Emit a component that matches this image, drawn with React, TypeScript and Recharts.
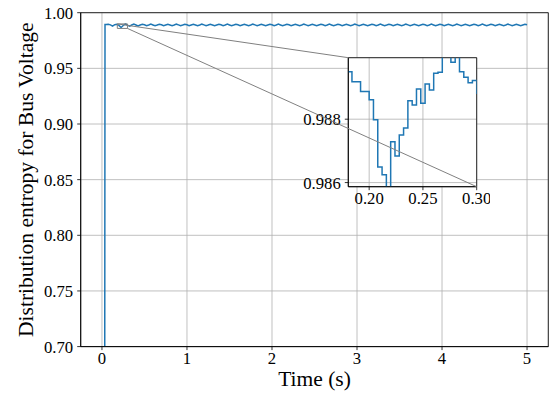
import { LineChart, Line, XAxis, YAxis, CartesianGrid, ReferenceArea, ReferenceLine } from 'recharts';

const FONT = '"Liberation Serif", "Times New Roman", serif';

// main trace: start-up points, then values every 0.025 s from 0.05 s to 5.00 s
const leadTimes = [0, 0.032, 0.036];
const leadValues = [0.62, 0.62, 0.9894];
const sampleStart = 0.05;
const sampleStep = 0.025;
const sampleValues = [
  0.9893, 0.9897, 0.9891, 0.988, 0.9892, 0.9896, 0.9886, 0.9867,
  0.9885, 0.9899, 0.9888, 0.9879, 0.9889, 0.9897, 0.989, 0.9882,
  0.9889, 0.9896, 0.9891, 0.9884, 0.989, 0.9897, 0.989, 0.9883,
  0.9889, 0.9896, 0.9891, 0.9884, 0.989, 0.9896, 0.989, 0.9884,
  0.989, 0.9897, 0.9891, 0.9883, 0.9889, 0.9896, 0.9891, 0.9884,
  0.989, 0.9896, 0.989, 0.9884, 0.9889, 0.9897, 0.9891, 0.9883,
  0.9889, 0.9896, 0.989, 0.9884, 0.989, 0.9896, 0.9891, 0.9884,
  0.989, 0.9897, 0.989, 0.9883, 0.9889, 0.9896, 0.9891, 0.9884,
  0.989, 0.9896, 0.989, 0.9884, 0.9889, 0.9897, 0.9891, 0.9883,
  0.9889, 0.9896, 0.989, 0.9884, 0.989, 0.9896, 0.9891, 0.9884,
  0.989, 0.9897, 0.989, 0.9883, 0.9889, 0.9896, 0.9891, 0.9884,
  0.989, 0.9896, 0.989, 0.9884, 0.9889, 0.9897, 0.9891, 0.9883,
  0.9889, 0.9896, 0.989, 0.9884, 0.989, 0.9896, 0.9891, 0.9884,
  0.989, 0.9897, 0.989, 0.9883, 0.9889, 0.9896, 0.9891, 0.9884,
  0.989, 0.9896, 0.989, 0.9884, 0.9889, 0.9897, 0.9891, 0.9883,
  0.9889, 0.9896, 0.989, 0.9884, 0.989, 0.9896, 0.9891, 0.9884,
  0.989, 0.9897, 0.989, 0.9883, 0.9889, 0.9896, 0.9891, 0.9884,
  0.989, 0.9896, 0.989, 0.9884, 0.9889, 0.9897, 0.9891, 0.9883,
  0.9889, 0.9896, 0.989, 0.9884, 0.989, 0.9896, 0.9891, 0.9884,
  0.989, 0.9897, 0.989, 0.9883, 0.9889, 0.9896, 0.9891, 0.9884,
  0.989, 0.9896, 0.989, 0.9884, 0.9889, 0.9897, 0.9891, 0.9883,
  0.9889, 0.9896, 0.989, 0.9884, 0.989, 0.9896, 0.9891, 0.9884,
  0.989, 0.9897, 0.989, 0.9883, 0.9889, 0.9896, 0.9891, 0.9884,
  0.989, 0.9896, 0.989, 0.9884, 0.9889, 0.9897, 0.9891, 0.9883,
  0.9889, 0.9896, 0.989, 0.9884, 0.989, 0.9896, 0.9891,
];

// zoomed window, 4 ms steps
const insetTimes = [
  0.18, 0.184, 0.188, 0.192, 0.196, 0.2, 0.204, 0.208, 0.212, 0.216, 0.22,
  0.224, 0.228, 0.232, 0.236, 0.24, 0.244, 0.248, 0.252, 0.256, 0.26,
  0.264, 0.268, 0.272, 0.276, 0.28, 0.284, 0.288, 0.292, 0.296, 0.3, 0.304,
];
const insetValues = [
  0.9895, 0.98918, 0.98918, 0.98887, 0.98887, 0.98861, 0.98798, 0.98649, 0.98625, 0.9855, 0.98729,
  0.98684, 0.9875, 0.98772, 0.98858, 0.98845, 0.98895, 0.9885, 0.98911, 0.98892, 0.98945,
  0.98948, 0.99, 0.99, 0.9898, 0.99, 0.9895, 0.98932, 0.98915, 0.98922, 0.98882, 0.9887,
];

const xTicks = [0, 1, 2, 3, 4, 5];
const yTicks = [0.7, 0.75, 0.8, 0.85, 0.9, 0.95, 1.0];
const insetXTicks = [0.2, 0.25, 0.3];
const insetYTicks = [0.986, 0.988];

const X_DOMAIN: [number, number] = [-0.25, 5.25];
const Y_DOMAIN: [number, number] = [0.7, 1.0];
const ZOOM_X: [number, number] = [0.1806, 0.3];
const ZOOM_Y: [number, number] = [0.98587, 0.98994];

const W = 557;
const H = 393;
const M = { top: 12.7, right: 8.7, left: 80.7, bottom: 46.4 };
const INSET = { left: 348.3, top: 57.7, width: 128.4, height: 129 };

const mainData = [
  ...leadTimes.map((t, i) => ({ t, v: leadValues[i] })),
  ...sampleValues.map((v, i) => ({ t: +(sampleStart + i * sampleStep).toFixed(3), v })),
];
const insetData = insetTimes.map((t, i) => ({ t, v: insetValues[i] }));

// inset corners expressed in main-axis data units
const plotW = W - M.left - M.right;
const plotH = H - M.top - M.bottom;
const toT = (px: number) => X_DOMAIN[0] + ((px - M.left) / plotW) * (X_DOMAIN[1] - X_DOMAIN[0]);
const toV = (py: number) => Y_DOMAIN[1] - ((py - M.top) / plotH) * (Y_DOMAIN[1] - Y_DOMAIN[0]);
const insetT0 = toT(INSET.left);
const insetT1 = toT(INSET.left + INSET.width);
const insetV0 = toV(INSET.top + INSET.height);
const insetV1 = toV(INSET.top);

const tickStyle = { fill: '#000', fontSize: 16.7, fontFamily: FONT };
const axisStroke = { stroke: '#000', strokeWidth: 0.8 };

const YLabel = ({ viewBox }: any) => {
  const cx = 33;
  const cy = viewBox.y + viewBox.height / 2;
  return (
    <text x={cx} y={cy} transform={`rotate(-90 ${cx} ${cy})`} textAnchor="middle"
      fontSize={21.5} fill="#000" fontFamily={FONT}>
      Distribution entropy for Bus Voltage
    </text>
  );
};

export default function App() {
  const insetW = 200;
  const insetH = 175;
  const insetLeft = 290;
  const insetTop = 50;
  return (
    <div style={{ position: 'absolute', left: 0, top: 0, width: W, height: H, background: '#fff', fontFamily: FONT }}>
      <div style={{ position: 'absolute', left: 0, top: 0 }}>
        <LineChart width={W} height={H} data={mainData} style={{ fontFamily: FONT }}
          margin={{ top: M.top, right: M.right, left: 0, bottom: 0 }}>
          <CartesianGrid stroke="#b0b0b0" strokeWidth={0.8} />
          <XAxis dataKey="t" type="number" domain={X_DOMAIN} ticks={xTicks} interval={0}
            height={M.bottom} tickSize={3.5} tickMargin={2} tick={tickStyle}
            axisLine={axisStroke} tickLine={axisStroke}
            label={{ value: 'Time (s)', position: 'insideBottom', offset: 7,
              style: { fontSize: 21.5, fill: '#000', fontFamily: FONT } }} />
          <YAxis type="number" domain={Y_DOMAIN} ticks={yTicks} interval={0} allowDataOverflow
            width={M.left} tickSize={3.5} tickMargin={4} tick={tickStyle}
            tickFormatter={(v: number) => v.toFixed(2)}
            axisLine={axisStroke} tickLine={axisStroke} label={YLabel} />
          <Line dataKey="v" type="linear" stroke="#1f77b4" strokeWidth={1.5} dot={false}
            isAnimationActive={false} />
        </LineChart>
      </div>

      <div style={{ position: 'absolute', left: insetLeft, top: insetTop }}>
        <LineChart width={insetW} height={insetH} data={insetData} style={{ fontFamily: FONT }}
          margin={{ top: INSET.top - insetTop, right: insetW - (INSET.left - insetLeft) - INSET.width, left: 0, bottom: 0 }}>
          <CartesianGrid stroke="#b0b0b0" strokeWidth={0.8} fill="#fff" fillOpacity={1} />
          <XAxis dataKey="t" type="number" domain={ZOOM_X} ticks={insetXTicks} interval={0} allowDataOverflow
            height={insetH - (INSET.top - insetTop) - INSET.height} tickSize={3.5} tickMargin={2} tick={tickStyle}
            tickFormatter={(v: number) => v.toFixed(2)}
            axisLine={axisStroke} tickLine={axisStroke} />
          <YAxis type="number" domain={ZOOM_Y} ticks={insetYTicks} interval={0} allowDataOverflow
            width={INSET.left - insetLeft} tickSize={3.5} tickMargin={4} tick={tickStyle}
            tickFormatter={(v: number) => v.toFixed(3)}
            axisLine={axisStroke} tickLine={axisStroke} />
          <Line dataKey="v" type="stepAfter" stroke="#1f77b4" strokeWidth={1.5} dot={false}
            isAnimationActive={false} />
          <ReferenceArea x1={ZOOM_X[0]} x2={ZOOM_X[1]} y1={ZOOM_Y[0]} y2={ZOOM_Y[1]}
            fill="none" stroke="#000" strokeWidth={0.8} />
        </LineChart>
      </div>

      <div style={{ position: 'absolute', left: 0, top: 0 }}>
        <LineChart width={W} height={H} data={mainData} margin={M}>
          <XAxis dataKey="t" type="number" domain={X_DOMAIN} hide allowDataOverflow />
          <YAxis type="number" domain={Y_DOMAIN} hide allowDataOverflow />
          <ReferenceArea x1={X_DOMAIN[0]} x2={X_DOMAIN[1]} y1={Y_DOMAIN[0]} y2={Y_DOMAIN[1]}
            fill="none" stroke="#000" strokeWidth={0.8} />
          <ReferenceArea x1={ZOOM_X[0]} x2={ZOOM_X[1]} y1={ZOOM_Y[0]} y2={ZOOM_Y[1]}
            fill="none" stroke="#808080" strokeWidth={1} />
          <ReferenceLine segment={[{ x: ZOOM_X[0], y: ZOOM_Y[1] }, { x: insetT0, y: insetV1 }]}
            stroke="#808080" strokeWidth={1} />
          <ReferenceLine segment={[{ x: ZOOM_X[1], y: ZOOM_Y[0] }, { x: insetT1, y: insetV0 }]}
            stroke="#808080" strokeWidth={1} />
        </LineChart>
      </div>
    </div>
  );
}
